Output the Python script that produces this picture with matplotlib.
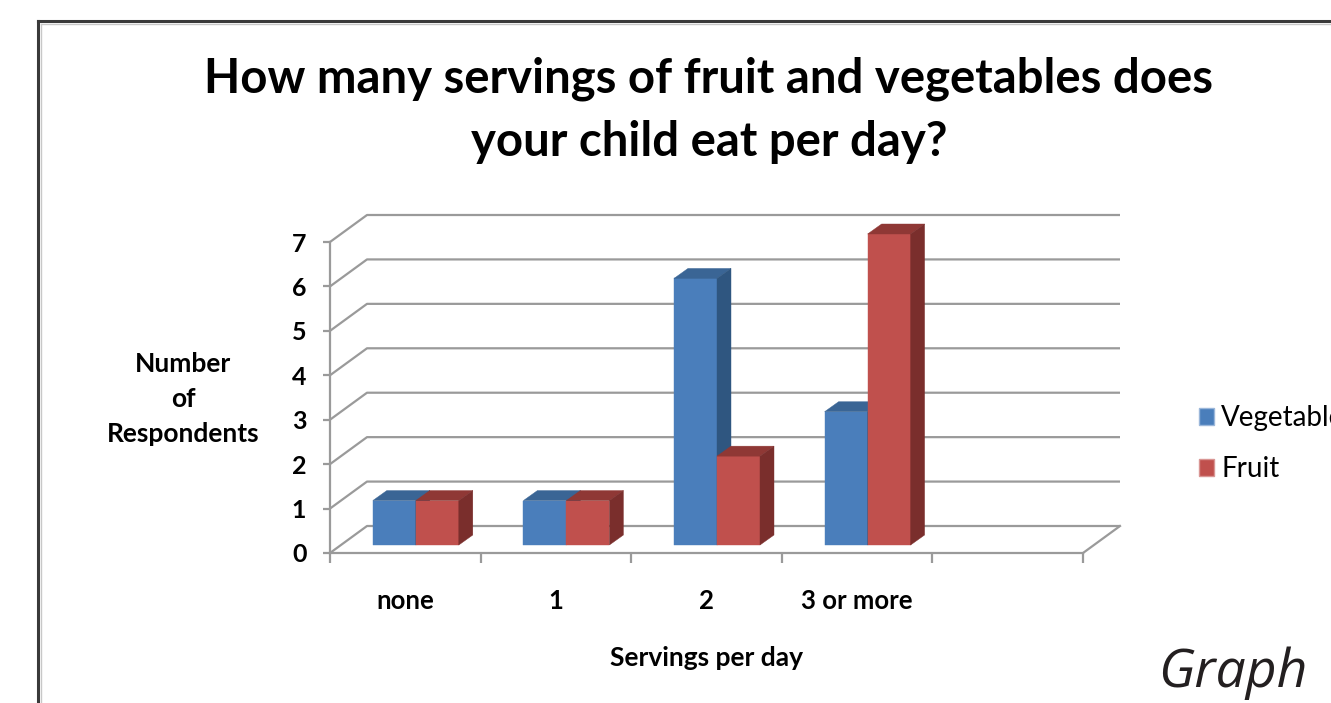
import matplotlib
matplotlib.use("Agg")
import matplotlib.pyplot as plt
from matplotlib.patches import Polygon, Patch
from matplotlib.lines import Line2D

categories = ["none", "1", "2", "3 or more"]
vegetables = [1, 1, 6, 3]
fruit = [1, 1, 2, 7]
series_names = ["Vegetables", "Fruit"]

# face colours: front, top, side
blue = ("#4a7ebb", "#3a6595", "#2f5680")
red = ("#c0504d", "#8f3835", "#7a2e2c")
grid_c = "#9a9a9a"

plt.rcParams['font.family'] = ['Lato', 'DejaVu Sans']

fig = plt.figure(figsize=(13.31, 7.03), dpi=100, facecolor="white")
W, H = 1331.0, 703.0
ax = fig.add_axes([330 / W, (H - 553) / H, 753 / W, 311 / H])
nslots = len(categories) + 1   # excel left an empty slot at the end
ax.set_xlim(0, nslots)
ax.set_ylim(0, 7)

# back wall offset (fake 3d) in data units
dx, dy = 37 / 150.6, 27 / 44.43
# bar offset and bar depth
bx, by = 10.5 / 150.6, 8 / 44.43
ddx, ddy = 14 / 150.6, 10 / 44.43
w = 0.2855

for v in range(0, 8):
    ax.plot([0, dx, nslots + dx], [v, v + dy, v + dy], color=grid_c, lw=1.6,
            clip_on=False, zorder=1, solid_capstyle='butt')
ax.plot([nslots, nslots + dx], [0, dy], color=grid_c, lw=1.6, clip_on=False, zorder=1)


def draw_bar(x0, h, cols):
    b = by
    front = [(x0, b), (x0 + w, b), (x0 + w, b + h), (x0, b + h)]
    top = [(x0, b + h), (x0 + w, b + h), (x0 + w + ddx, b + h + ddy), (x0 + ddx, b + h + ddy)]
    side = [(x0 + w, b), (x0 + w + ddx, b + ddy), (x0 + w + ddx, b + h + ddy), (x0 + w, b + h)]
    for pts, c in zip([front, top, side], cols):
        ax.add_patch(Polygon(pts, closed=True, facecolor=c, edgecolor=c, lw=0.3,
                             clip_on=False, zorder=3))


for i in range(len(categories)):
    xb = i + 0.5 - w + bx
    draw_bar(xb, vegetables[i], blue)
    draw_bar(xb + w, fruit[i], red)

for s in ["top", "right"]:
    ax.spines[s].set_visible(False)
for s in ["left", "bottom"]:
    ax.spines[s].set_color(grid_c)
    ax.spines[s].set_linewidth(1.6)
ax.set_facecolor("none")

ax.set_yticks(range(0, 8))
ax.tick_params(axis='y', length=5, width=1.6, color=grid_c, pad=12,
               labelsize=18)
for t in ax.get_yticklabels():
    t.set_fontweight('bold')

ax.set_xticks(range(0, nslots + 1))
ax.set_xticklabels([])
ax.set_xticks([i + 0.5 for i in range(len(categories))], minor=True)
ax.set_xticklabels(categories, minor=True, fontsize=18.5, fontweight='bold')
ax.tick_params(axis='x', which='major', length=7, width=1.6, color=grid_c)
ax.tick_params(axis='x', which='minor', length=0, pad=26)

ax.set_ylabel("Number\nof\nRespondents", rotation=0, fontsize=19,
              fontweight='bold', ha='center', va='center', linespacing=1.55)
ax.yaxis.set_label_coords(-0.195, 0.495)
ax.set_xlabel("Servings per day", fontsize=19, fontweight='bold', va='center')
ax.xaxis.set_label_coords(0.5, -0.3376)

fig.text(709 / W, 1 - 110 / H,
         "How many servings of fruit and vegetables does\nyour child eat per day?",
         ha='center', va='center', fontsize=34, fontweight='bold', linespacing=1.53)

handles = [Patch(facecolor=blue[0], edgecolor='#9bb7da'),
           Patch(facecolor=red[0], edgecolor='#d99694')]
fig.legend(handles, series_names, loc='upper left',
           bbox_to_anchor=(1199 / W, 1 - 405 / H), bbox_transform=fig.transFigure,
           frameon=False, fontsize=20, handlelength=0.55, handleheight=0.55,
           handletextpad=0.25, labelspacing=0.9, borderpad=0, borderaxespad=0)

fig.text(1308 / W, 1 - 673 / H, "Graph", ha='right', va='center',
         fontsize=38.5, style='italic', family=['Open Sans', 'DejaVu Sans'],
         color='#231f20')

# outer frame of the pasted chart
fig.add_artist(Line2D([38 / W, 1.0], [1 - 21 / H, 1 - 21 / H], color='#3a3a3a',
                      lw=2.2, transform=fig.transFigure))
fig.add_artist(Line2D([38 / W, 38 / W], [1 - 21 / H, 0], color='#3a3a3a',
                      lw=2.2, transform=fig.transFigure))
fig.add_artist(Line2D([41 / W, 1.0], [1 - 24 / H, 1 - 24 / H], color='#c8c8c8',
                      lw=1.0, transform=fig.transFigure))
fig.add_artist(Line2D([41 / W, 41 / W], [1 - 24 / H, 0], color='#c8c8c8',
                      lw=1.0, transform=fig.transFigure))

fig.savefig("out.png", dpi=100, facecolor=fig.get_facecolor())
